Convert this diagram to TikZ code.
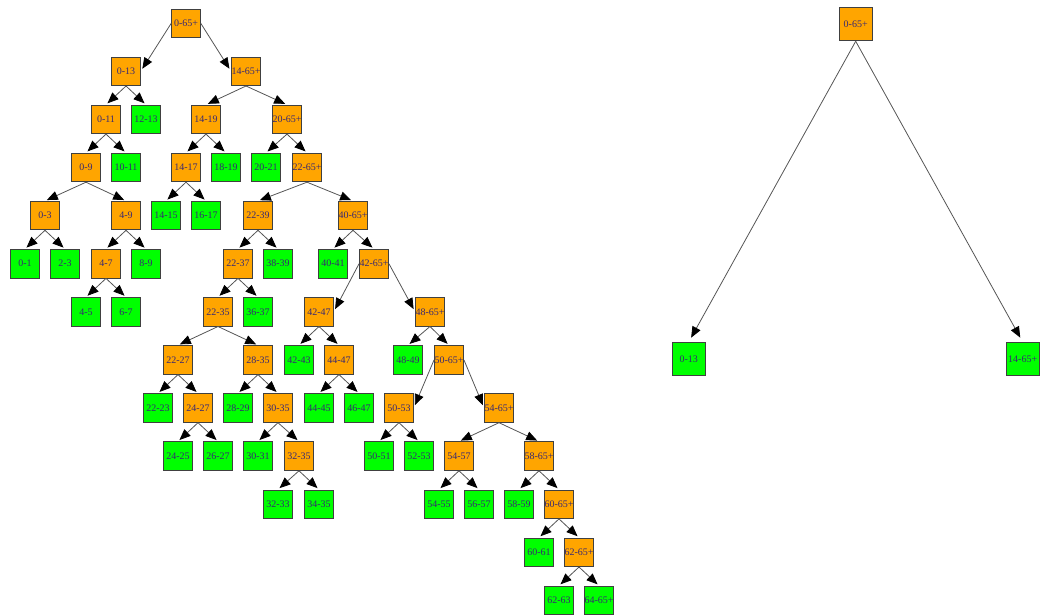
\documentclass[tikz,border=0pt]{standalone}
\usepackage{fontspec}
\setmainfont{Liberation Serif}
\usepackage{tikz}
\usetikzlibrary{arrows.meta}
\definecolor{splitorange}{RGB}{255,165,0}
\definecolor{leafgreen}{RGB}{0,255,0}
\definecolor{labelnavy}{RGB}{55,40,115}
\definecolor{edgegray}{RGB}{85,85,85}
\tikzset{
  agebox/.style={
    draw=black!75,line width=0.9pt,minimum width=28.5pt,minimum height=28.5pt,
    inner sep=0pt,font=\fontsize{10}{10}\selectfont,text=labelnavy
  },
  splitbox/.style={agebox,fill=splitorange},
  leafbox/.style={agebox,fill=leafgreen},
  bigsplitbox/.style={splitbox,minimum width=33pt,minimum height=33pt},
  bigleafbox/.style={leafbox,minimum width=33pt,minimum height=33pt},
  treearrow/.style={-{Triangle[length=11pt,width=9pt,color=black]},draw=edgegray,line width=0.8pt,shorten >=2pt},
  sidearrow/.style={treearrow,shorten >=3pt}
}

\begin{document}
\begin{tikzpicture}[x=1pt,y=-1pt]
  \useasboundingbox (0,0) rectangle (1050,616);
  % full split tree
  \node[splitbox] (a0-65) at (186,23.2) {0-65+};
  \node[splitbox] (a0-13) at (126,71.3) {0-13};
  \node[splitbox] (a14-65) at (246,71.3) {14-65+};
  \node[splitbox] (a0-11) at (106,119.4) {0-11};
  \node[leafbox] (a12-13) at (146,119.4) {12-13};
  \node[splitbox] (a14-19) at (206,119.4) {14-19};
  \node[splitbox] (a20-65) at (287,119.4) {20-65+};
  \node[splitbox] (a0-9) at (86,167.5) {0-9};
  \node[leafbox] (a10-11) at (126,167.5) {10-11};
  \node[splitbox] (a14-17) at (186,167.5) {14-17};
  \node[leafbox] (a18-19) at (226,167.5) {18-19};
  \node[leafbox] (a20-21) at (266,167.5) {20-21};
  \node[splitbox] (a22-65) at (307,167.5) {22-65+};
  \node[splitbox] (a0-3) at (45,215.6) {0-3};
  \node[splitbox] (a4-9) at (126,215.6) {4-9};
  \node[leafbox] (a14-15) at (166,215.6) {14-15};
  \node[leafbox] (a16-17) at (206,215.6) {16-17};
  \node[splitbox] (a22-39) at (258,215.6) {22-39};
  \node[splitbox] (a40-65) at (353,215.6) {40-65+};
  \node[leafbox] (a0-1) at (25,263.7) {0-1};
  \node[leafbox] (a2-3) at (65,263.7) {2-3};
  \node[splitbox] (a4-7) at (106,263.7) {4-7};
  \node[leafbox] (a8-9) at (146,263.7) {8-9};
  \node[splitbox] (a22-37) at (238,263.7) {22-37};
  \node[leafbox] (a38-39) at (278,263.7) {38-39};
  \node[leafbox] (a40-41) at (333,263.7) {40-41};
  \node[splitbox] (a42-65) at (374,263.7) {42-65+};
  \node[leafbox] (a4-5) at (86,311.8) {4-5};
  \node[leafbox] (a6-7) at (126,311.8) {6-7};
  \node[splitbox] (a22-35) at (218,311.8) {22-35};
  \node[leafbox] (a36-37) at (258,311.8) {36-37};
  \node[splitbox] (a42-47) at (319,311.8) {42-47};
  \node[splitbox] (a48-65) at (430,311.8) {48-65+};
  \node[splitbox] (a22-27) at (178,359.9) {22-27};
  \node[splitbox] (a28-35) at (258,359.9) {28-35};
  \node[leafbox] (a42-43) at (299,359.9) {42-43};
  \node[splitbox] (a44-47) at (339,359.9) {44-47};
  \node[leafbox] (a48-49) at (408,359.9) {48-49};
  \node[splitbox] (a50-65) at (449,359.9) {50-65+};
  \node[leafbox] (a22-23) at (158,408) {22-23};
  \node[splitbox] (a24-27) at (198,408) {24-27};
  \node[leafbox] (a28-29) at (238,408) {28-29};
  \node[splitbox] (a30-35) at (278,408) {30-35};
  \node[leafbox] (a44-45) at (319,408) {44-45};
  \node[leafbox] (a46-47) at (359,408) {46-47};
  \node[splitbox] (a50-53) at (399,408) {50-53};
  \node[splitbox] (a54-65) at (499,408) {54-65+};
  \node[leafbox] (a24-25) at (178,456.1) {24-25};
  \node[leafbox] (a26-27) at (218,456.1) {26-27};
  \node[leafbox] (a30-31) at (258,456.1) {30-31};
  \node[splitbox] (a32-35) at (299,456.1) {32-35};
  \node[leafbox] (a50-51) at (379,456.1) {50-51};
  \node[leafbox] (a52-53) at (419,456.1) {52-53};
  \node[splitbox] (a54-57) at (459,456.1) {54-57};
  \node[splitbox] (a58-65) at (539,456.1) {58-65+};
  \node[leafbox] (a32-33) at (278,504.2) {32-33};
  \node[leafbox] (a34-35) at (319,504.2) {34-35};
  \node[leafbox] (a54-55) at (439,504.2) {54-55};
  \node[leafbox] (a56-57) at (479,504.2) {56-57};
  \node[leafbox] (a58-59) at (519,504.2) {58-59};
  \node[splitbox] (a60-65) at (559,504.2) {60-65+};
  \node[leafbox] (a60-61) at (539,552.3) {60-61};
  \node[splitbox] (a62-65) at (579,552.3) {62-65+};
  \node[leafbox] (a62-63) at (559,600.4) {62-63};
  \node[leafbox] (a64-65) at (599,600.4) {64-65+};

  \draw[sidearrow] (a0-65.west) -- (a0-13.east); \draw[sidearrow] (a0-65.east) -- (a14-65.west);
  \draw[treearrow] (a0-13.south) -- (a0-11.north); \draw[treearrow] (a0-13.south) -- (a12-13.north);
  \draw[treearrow] (a0-11.south) -- (a0-9.north); \draw[treearrow] (a0-11.south) -- (a10-11.north);
  \draw[treearrow] (a0-9.south) -- (a0-3.north); \draw[treearrow] (a0-9.south) -- (a4-9.north);
  \draw[treearrow] (a0-3.south) -- (a0-1.north); \draw[treearrow] (a0-3.south) -- (a2-3.north);
  \draw[treearrow] (a4-9.south) -- (a4-7.north); \draw[treearrow] (a4-9.south) -- (a8-9.north);
  \draw[treearrow] (a4-7.south) -- (a4-5.north); \draw[treearrow] (a4-7.south) -- (a6-7.north);
  \draw[treearrow] (a14-65.south) -- (a14-19.north); \draw[treearrow] (a14-65.south) -- (a20-65.north);
  \draw[treearrow] (a14-19.south) -- (a14-17.north); \draw[treearrow] (a14-19.south) -- (a18-19.north);
  \draw[treearrow] (a14-17.south) -- (a14-15.north); \draw[treearrow] (a14-17.south) -- (a16-17.north);
  \draw[treearrow] (a20-65.south) -- (a20-21.north); \draw[treearrow] (a20-65.south) -- (a22-65.north);
  \draw[treearrow] (a22-65.south) -- (a22-39.north); \draw[treearrow] (a22-65.south) -- (a40-65.north);
  \draw[treearrow] (a22-39.south) -- (a22-37.north); \draw[treearrow] (a22-39.south) -- (a38-39.north);
  \draw[treearrow] (a22-37.south) -- (a22-35.north); \draw[treearrow] (a22-37.south) -- (a36-37.north);
  \draw[treearrow] (a22-35.south) -- (a22-27.north); \draw[treearrow] (a22-35.south) -- (a28-35.north);
  \draw[treearrow] (a22-27.south) -- (a22-23.north); \draw[treearrow] (a22-27.south) -- (a24-27.north);
  \draw[treearrow] (a24-27.south) -- (a24-25.north); \draw[treearrow] (a24-27.south) -- (a26-27.north);
  \draw[treearrow] (a28-35.south) -- (a28-29.north); \draw[treearrow] (a28-35.south) -- (a30-35.north);
  \draw[treearrow] (a30-35.south) -- (a30-31.north); \draw[treearrow] (a30-35.south) -- (a32-35.north);
  \draw[treearrow] (a32-35.south) -- (a32-33.north); \draw[treearrow] (a32-35.south) -- (a34-35.north);
  \draw[treearrow] (a40-65.south) -- (a40-41.north); \draw[treearrow] (a40-65.south) -- (a42-65.north);
  \draw[sidearrow] (a42-65.west) -- (a42-47.east); \draw[sidearrow] (a42-65.east) -- (a48-65.west);
  \draw[treearrow] (a42-47.south) -- (a42-43.north); \draw[treearrow] (a42-47.south) -- (a44-47.north);
  \draw[treearrow] (a44-47.south) -- (a44-45.north); \draw[treearrow] (a44-47.south) -- (a46-47.north);
  \draw[treearrow] (a48-65.south) -- (a48-49.north); \draw[treearrow] (a48-65.south) -- (a50-65.north);
  \draw[sidearrow] (a50-65.west) -- (a50-53.east); \draw[sidearrow] (a50-65.east) -- (a54-65.west);
  \draw[treearrow] (a50-53.south) -- (a50-51.north); \draw[treearrow] (a50-53.south) -- (a52-53.north);
  \draw[treearrow] (a54-65.south) -- (a54-57.north); \draw[treearrow] (a54-65.south) -- (a58-65.north);
  \draw[treearrow] (a54-57.south) -- (a54-55.north); \draw[treearrow] (a54-57.south) -- (a56-57.north);
  \draw[treearrow] (a58-65.south) -- (a58-59.north); \draw[treearrow] (a58-65.south) -- (a60-65.north);
  \draw[treearrow] (a60-65.south) -- (a60-61.north); \draw[treearrow] (a60-65.south) -- (a62-65.north);
  \draw[treearrow] (a62-65.south) -- (a62-63.north); \draw[treearrow] (a62-65.south) -- (a64-65.north);

  % pruned tree
  \node[bigsplitbox] (b0-65) at (855.7,24.3) {0-65+};
  \node[bigleafbox] (b0-13) at (688.7,359) {0-13};
  \node[bigleafbox] (b14-65) at (1022.7,359) {14-65+};
  \draw[treearrow,shorten >=5pt] (b0-65.south) -- (b0-13.north);
  \draw[treearrow,shorten >=5pt] (b0-65.south) -- (b14-65.north);
\end{tikzpicture}
\end{document}
